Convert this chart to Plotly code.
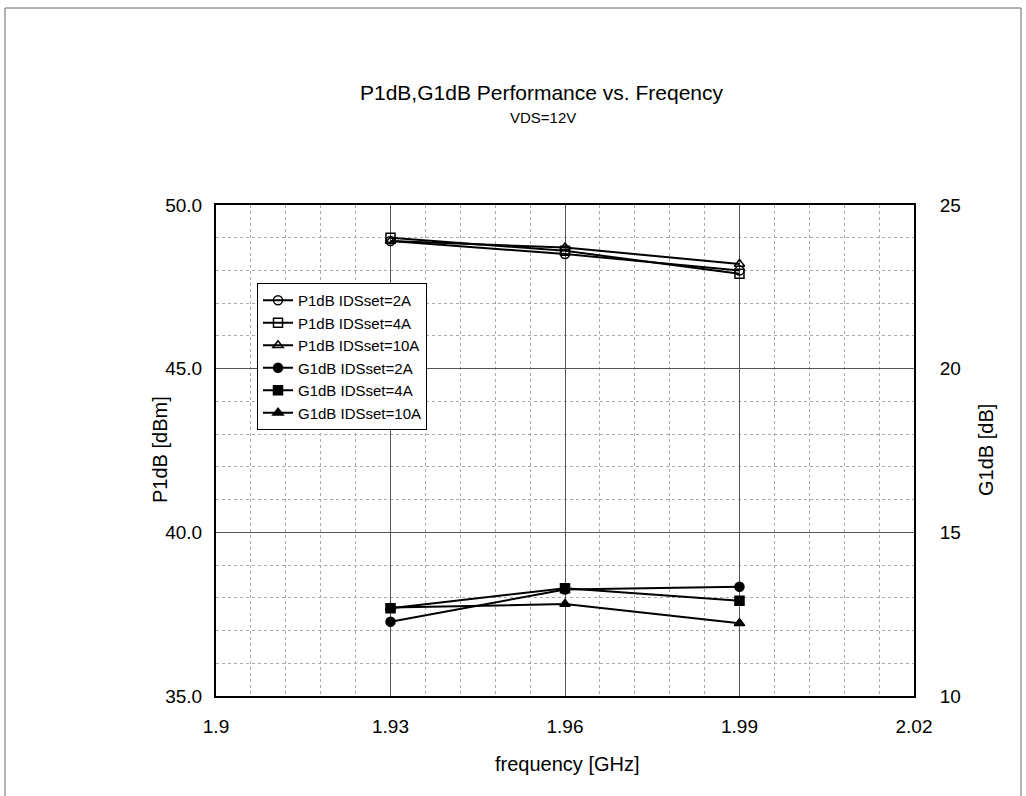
import plotly.graph_objects as go

freq = [1.93, 1.96, 1.99]
p1db_2a = [48.9, 48.5, 48.0]
p1db_4a = [49.0, 48.6, 47.9]
p1db_10a = [48.9, 48.7, 48.2]
g1db_2a = [12.27, 13.25, 13.34]
g1db_4a = [12.68, 13.29, 12.91]
g1db_10a = [12.70, 12.81, 12.22]

x_ticks = [1.9, 1.93, 1.96, 1.99, 2.02]
x_tick_text = ["1.9", "1.93", "1.96", "1.99", "2.02"]

FONT = "Liberation Sans, Arial, sans-serif"
W, H = 1026, 796
L, R, T, B = 216, 914, 205, 696

fig = go.Figure()

series = [
    ("P1dB IDSset=2A", p1db_2a, "circle-open", "y"),
    ("P1dB IDSset=4A", p1db_4a, "square-open", "y"),
    ("P1dB IDSset=10A", p1db_10a, "triangle-up-open", "y"),
    ("G1dB IDSset=2A", g1db_2a, "circle", "y2"),
    ("G1dB IDSset=4A", g1db_4a, "square", "y2"),
    ("G1dB IDSset=10A", g1db_10a, "triangle-up", "y2"),
]
for name, vals, sym, ax in series:
    fig.add_trace(go.Scatter(
        x=freq, y=vals, name=name, mode="lines+markers", yaxis=ax,
        line=dict(color="black", width=2),
        marker=dict(symbol=sym, size=9, color="black",
                    line=dict(color="black", width=1.5)),
    ))

def px(xp):
    return (xp - L) / (R - L)

def py(yp):
    return (B - yp) / (B - T)

fig.update_layout(
    width=W, height=H,
    margin=dict(l=L, r=W - R, t=T, b=H - B),
    paper_bgcolor="white", plot_bgcolor="white",
    font=dict(family=FONT, size=19, color="black"),
    showlegend=True,
    legend=dict(
        x=px(257), y=py(283), xanchor="left", yanchor="top",
        bgcolor="white", bordercolor="black", borderwidth=1,
        font=dict(family=FONT, size=15, color="black"),
        tracegroupgap=0, itemwidth=30,
    ),
    xaxis=dict(
        range=[1.9, 2.02], tickvals=x_ticks, ticktext=x_tick_text,
        showgrid=True, gridcolor="#555555", gridwidth=1,
        minor=dict(dtick=0.006, tick0=1.9, showgrid=True, gridcolor="#aaaaaa",
                   griddash="dot", gridwidth=1),
        showline=True, linecolor="black", linewidth=2, mirror=True,
        zeroline=False, ticks="", ticklabelstandoff=12,
    ),
    yaxis=dict(
        range=[35, 50], dtick=5, tick0=35, tickformat=".1f",
        showgrid=True, gridcolor="#555555", gridwidth=1,
        minor=dict(dtick=1, tick0=35, showgrid=True, gridcolor="#aaaaaa",
                   griddash="dot", gridwidth=1),
        showline=True, linecolor="black", linewidth=2, mirror=True,
        zeroline=False, ticks="", ticklabelstandoff=8,
    ),
    yaxis2=dict(
        range=[10, 25], dtick=5, tick0=10, overlaying="y", side="right",
        showgrid=False, zeroline=False, ticks="", ticklabelstandoff=20,
        showline=True, linecolor="black", linewidth=2,
    ),
    annotations=[
        dict(text="P1dB,G1dB Performance vs. Freqency", x=px(541), y=py(92),
             xref="paper", yref="paper", showarrow=False,
             font=dict(family=FONT, size=21), xanchor="center", yanchor="middle"),
        dict(text="VDS=12V", x=px(543), y=py(117),
             xref="paper", yref="paper", showarrow=False,
             font=dict(family=FONT, size=15), xanchor="center", yanchor="middle"),
        dict(text="frequency [GHz]", x=px(567), y=py(764),
             xref="paper", yref="paper", showarrow=False,
             font=dict(family=FONT, size=20), xanchor="center", yanchor="middle"),
        dict(text="P1dB [dBm]", x=px(160), y=py(450), textangle=-90,
             xref="paper", yref="paper", showarrow=False,
             font=dict(family=FONT, size=20), xanchor="center", yanchor="middle"),
        dict(text="G1dB [dB]", x=px(986), y=py(450), textangle=-90,
             xref="paper", yref="paper", showarrow=False,
             font=dict(family=FONT, size=20), xanchor="center", yanchor="middle"),
    ],
    shapes=[
        dict(type="line", xref="paper", yref="paper", x0=px(5), x1=px(1021),
             y0=py(8), y1=py(8), line=dict(color="#666666", width=1)),
        dict(type="line", xref="paper", yref="paper", x0=px(5), x1=px(5),
             y0=py(8), y1=py(796), line=dict(color="#666666", width=1)),
        dict(type="line", xref="paper", yref="paper", x0=px(1021), x1=px(1021),
             y0=py(8), y1=py(796), line=dict(color="#666666", width=1)),
    ],
)

fig.write_html("out.html")
